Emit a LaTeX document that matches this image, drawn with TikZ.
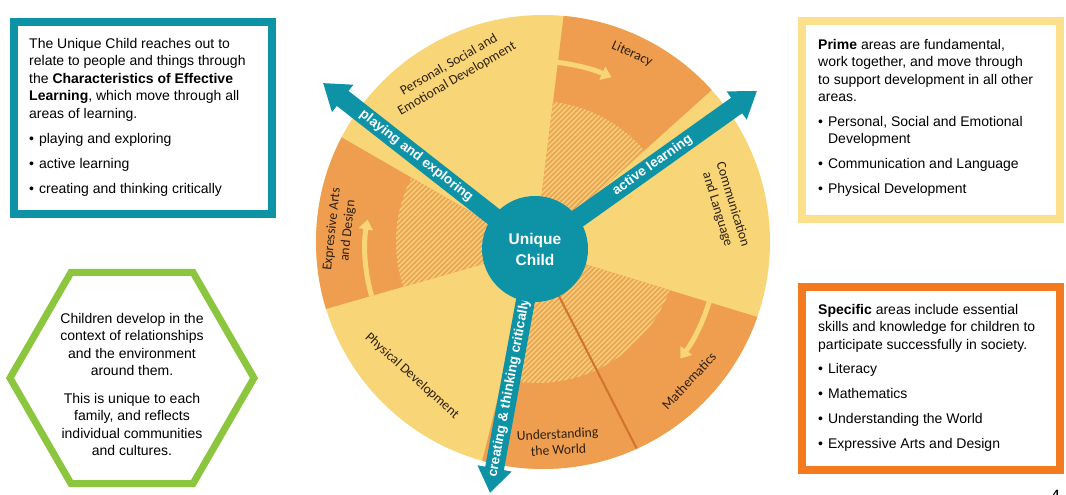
\documentclass[tikz,border=0pt]{standalone}
\usepackage{fontspec}
\setmainfont{Liberation Sans}
\newfontfamily\wheelfont{Carlito}
\usepackage{xcolor}
\usetikzlibrary{arrows.meta,shapes.geometric,positioning}

\definecolor{ceteal}{RGB}{14,147,166}
\definecolor{cesun}{RGB}{248,213,119}
\definecolor{ceorange}{RGB}{239,158,80}
\definecolor{cehatch}{RGB}{236,165,88}
\definecolor{ceprime}{RGB}{253,224,140}
\definecolor{cespecific}{RGB}{244,122,32}
\definecolor{cegreen}{RGB}{140,198,63}
\definecolor{cedivider}{RGB}{210,115,43}
\definecolor{ceink}{RGB}{45,32,20}

\newcommand{\bul}{\textbullet\hspace{5pt}}

\begin{document}
\begin{tikzpicture}[x=1pt, y=1pt, >=Triangle,
  every node/.style={inner sep=0pt},
  infobox/.style={line width=8pt},
  infotext/.style={anchor=north west, align=left, font=\fontsize{14}{17.5}\selectfont},
  area/.style={text=ceink, align=center, font=\wheelfont\fontsize{13.6}{16}\selectfont},
  cel/.style={ceteal, line width=19pt, -{Triangle[width=33pt,length=25pt]}},
  cellabel/.style={text=white, sloped, font=\bfseries\fontsize{13.5}{15}\selectfont},
  flowarc/.style={cesun, line width=5pt, -{Triangle[width=14pt,length=10pt]}},
  hub/.style={circle, fill=ceteal, minimum size=106pt, text=white, align=center,
    font=\bfseries\fontsize{15.5}{21}\selectfont}]
\useasboundingbox (0,0) rectangle (1066,495);

% the three boxes and the hexagon
\node[infobox, draw=ceteal, minimum width=258pt, minimum height=192pt] (celbox) at (143,377) {};
\node[infotext] (celtext) at ([xshift=19pt,yshift=-20pt]celbox.north west)
  {The Unique Child reaches out to\\
   relate to people and things through\\
   the \textbf{Characteristics of Effective}\\
   \textbf{Learning}, which move through all\\
   areas of learning.\\[7.5pt]
   \bul playing and exploring\\[7.5pt]
   \bul active learning\\[7.5pt]
   \bul creating and thinking critically};

\node[infobox, draw=ceprime, minimum width=258pt, minimum height=198pt] (primebox) at (931,375) {};
\node[infotext] (primetext) at ([xshift=20pt,yshift=-22pt]primebox.north west)
  {\textbf{Prime} areas are fundamental,\\
   work together, and move through\\
   to support development in all other\\
   areas.\\[7pt]
   \bul Personal, Social and Emotional\\
   \hphantom{\bul}Development\\[7.5pt]
   \bul Communication and Language\\[7.5pt]
   \bul Physical Development};

\node[infobox, draw=cespecific, minimum width=258pt, minimum height=183pt] (specbox) at (931,116.5) {};
\node[infotext] (spectext) at ([xshift=20pt,yshift=-21pt]specbox.north west)
  {\textbf{Specific} areas include essential\\
   skills and knowledge for children to\\
   participate successfully in society.\\[7pt]
   \bul Literacy\\[7.5pt]
   \bul Mathematics\\[7.5pt]
   \bul Understanding the World\\[7.5pt]
   \bul Expressive Arts and Design};

\node[regular polygon, regular polygon sides=6, minimum size=244pt, draw=cegreen,
  line width=7pt] (family) at (132,117) {};
\node[anchor=north, align=center, font=\fontsize{14}{17.4}\selectfont] (familytext)
  at ([yshift=65pt]family.center)
  {Children develop in the\\
   context of relationships\\
   and the environment\\
   around them.\\[10.5pt]
   This is unique to each\\
   family, and reflects\\
   individual communities\\
   and cultures.};

% the wheel
\coordinate (hubc) at (535,246);
\coordinate (wheelc) at (543,253);
\coordinate (hatchc) at (537,253);
\fill[cesun] (wheelc) circle[radius=227];
\begin{scope}
  \clip (wheelc) circle[radius=227];
  \foreach \a/\b in {42/83, -63/-17, -104/-63, 150/196}
    \fill[ceorange] (hubc) -- ++(\a:300) arc[start angle=\a, end angle=\b, radius=300] -- cycle;
\end{scope}
\foreach \a/\b in {42/83, -63/-17, -104/-63, 150/196} {
  \begin{scope}
    \clip (hatchc) circle[radius=141];
    \clip (hubc) -- ++(\a:300) arc[start angle=\a, end angle=\b, radius=300] -- cycle;
    \fill[cehatch] (380,100) rectangle (700,410);
    \foreach \k in {0,5,...,570}
      \draw[cesun, line width=1.4pt] (\k+100,100) -- (\k+400,400);
  \end{scope}
}
\draw[cedivider, line width=2pt] (hubc) -- ++(-63:224);

\draw[flowarc] (hubc) ++(84:188) arc[start angle=84, end angle=66, radius=188];
\draw[flowarc] (hubc) ++(196:170) arc[start angle=196, end angle=170, radius=170];
\draw[flowarc] (hubc) ++(-15:182) arc[start angle=-15, end angle=-37, radius=182];

\node[area, rotate=30] (psed) at (453,423) {Personal, Social and\\Emotional Development};
\node[area, rotate=-24] (lit) at (632,441) {Literacy};
\node[area, rotate=-73] (cl) at (725,288) {Communication\\and Language};
\node[area, rotate=47] (maths) at (689,114) {Mathematics};
\node[area, rotate=3] (uw) at (558,53) {Understanding\\the World};
\node[area, rotate=-42] (pd) at (412,119) {Physical Development};
\node[area, rotate=84] (ead) at (340,265) {Expressive Arts\\and Design};

% characteristics of effective learning
\coordinate (playtip) at (323,412);
\coordinate (activetip) at (757,404);
\coordinate (createtip) at (490,2);
\draw[cel] (hubc) -- (playtip) node[cellabel, pos=0.56] {playing and exploring};
\draw[cel] (hubc) -- (activetip) node[cellabel, pos=0.53] {active learning};
\draw[cel] (hubc) -- (createtip) node[cellabel, pos=0.57] {creating \& thinking critically};

\node[hub] (child) at (hubc) {Unique\\Child};

\node[anchor=north, font=\bfseries\fontsize{12}{12}\selectfont] (pagenum) at (1056,5) {4};
\end{tikzpicture}
\end{document}
